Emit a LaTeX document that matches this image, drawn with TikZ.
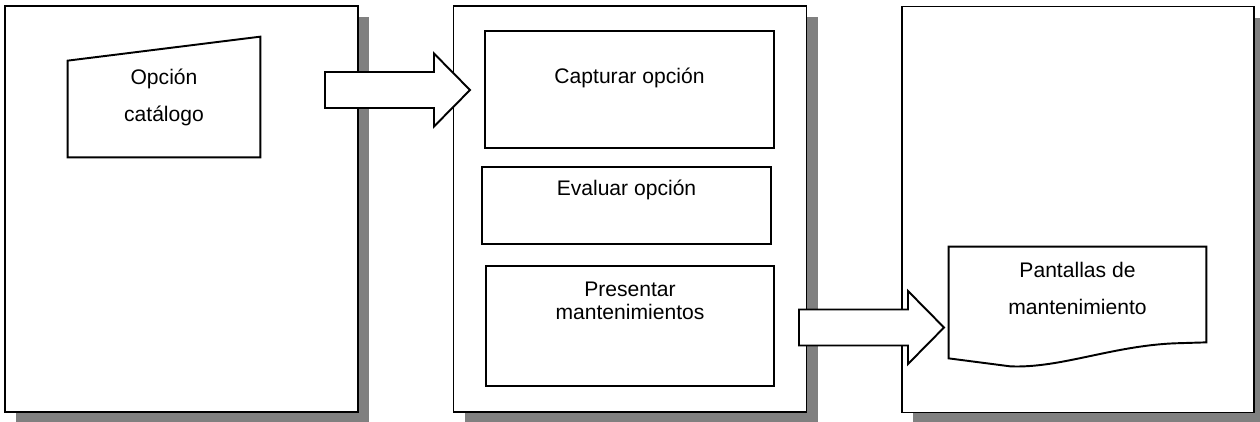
\documentclass[tikz,border=0pt]{standalone}
\usepackage{fontspec}
\setmainfont{Liberation Sans}
\usetikzlibrary{calc,shadows}

\tikzset{
  panel/.style={draw, fill=white, line width=1.1pt, minimum width=7.06cm, minimum height=8.12cm,
    drop shadow={shadow xshift=0.22cm, shadow yshift=-0.22cm, fill=black!50, opacity=1}},
  proc/.style={draw, fill=white, line width=1.1pt, minimum width=5.78cm},
  txt/.style={font=\fontsize{12}{13}\selectfont, align=center},
  blockarrow/.style={draw, fill=white, line width=1.1pt, line join=miter}
}

% block arrow from tail (#1) to tip (#2)
\newcommand{\bigarrow}[2]{%
  \draw[blockarrow] ($(#1)+(0,0.36)$) -- ($(#2)+(-0.72,0.36)$) -- ($(#2)+(-0.72,0.73)$)
    -- (#2) -- ($(#2)+(-0.72,-0.73)$) -- ($(#2)+(-0.72,-0.36)$) -- ($(#1)+(0,-0.36)$) -- cycle;}

\begin{document}
\begin{tikzpicture}
\useasboundingbox (0,0) rectangle (25.2,-8.42);

% the three panels
\node[panel] (p1) at (3.63,-4.18) {};
\node[panel] (p2) at (12.6,-4.18) {};
\node[panel, minimum width=7.04cm] (p3) at (21.56,-4.19) {};

% manual input
\node[txt, minimum width=3.84cm, minimum height=2.4cm, font=\fontsize{12}{21}\selectfont] (opc) at (3.28,-1.94) {Opción\\catálogo};
\draw[line width=1.1pt] (opc.south west) -- ($(opc.north west)+(0,-0.48)$) -- (opc.north east) -- (opc.south east) -- cycle;

% process steps
\node[proc, minimum height=2.34cm, label={[txt, anchor=center, yshift=-0.96cm]north:Capturar opción}] (cap) at (12.59,-1.79) {};
\node[proc, minimum height=1.54cm, label={[txt, anchor=center, yshift=-0.48cm]north:Evaluar opción}] (eva) at (12.53,-4.11) {};
\node[proc, minimum width=5.76cm, minimum height=2.4cm, label={[txt, anchor=center, yshift=-0.71cm]north:Presentar\\mantenimientos}] (pre) at (12.6,-6.52) {};

% document
\node[txt, minimum width=5.14cm, minimum height=1.66cm, font=\fontsize{12}{21}\selectfont] (doc) at (21.55,-5.77) {Pantallas de\\mantenimiento};
\draw[line width=1.1pt] ($(doc.south west)+(0,-0.56)$) -- (doc.north west) -- (doc.north east) -- ($(doc.south east)+(0,-0.24)$)
  -- ($(doc.south east)+(-0.66,-0.26)$) .. controls ($(doc.south east)+(-1.92,-0.32)$) and ($(doc.south east)+(-2.92,-0.76)$) .. ($(doc.south east)+(-3.92,-0.72)$)
  -- cycle;

% arrows
\coordinate (a1) at (6.5,-1.8);
\coordinate (b1) at (9.4,-1.8);
\coordinate (a2) at (15.98,-6.55);
\coordinate (b2) at (18.88,-6.55);
\bigarrow{a1}{b1}
\bigarrow{a2}{b2}
\end{tikzpicture}
\end{document}
